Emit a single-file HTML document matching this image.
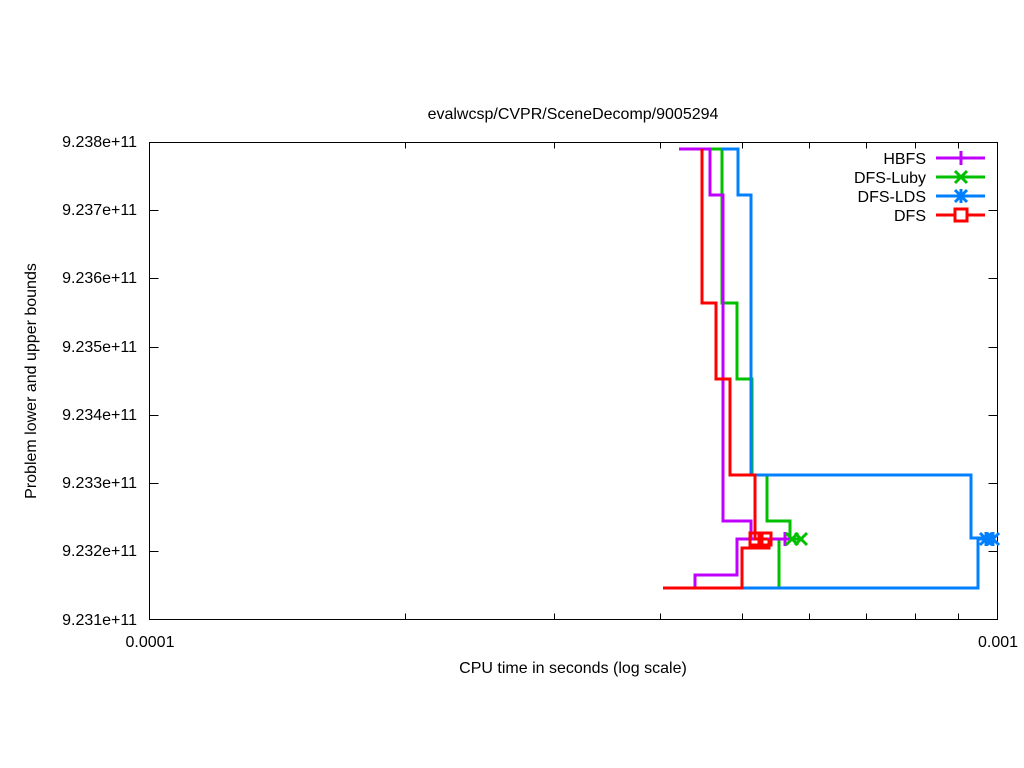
<!DOCTYPE html>
<html><head><meta charset="utf-8"><style>
html,body{margin:0;padding:0;background:#fff}
svg{display:block}
text{font-family:"Liberation Sans",sans-serif;font-size:16px;fill:#000}
</style></head><body>
<svg width="1024" height="768" viewBox="0 0 1024 768">
<rect width="1024" height="768" fill="#fff"/>
<g stroke="#000" stroke-width="1" fill="none">
<rect x="149.5" y="142.5" width="848" height="477"/>
<path d="M149.5 210.5h9M149.5 278.5h9M149.5 347.5h9M149.5 415.5h9M149.5 483.5h9M149.5 551.5h9
M997.5 210.5h-9M997.5 278.5h-9M997.5 347.5h-9M997.5 415.5h-9M997.5 483.5h-9M997.5 551.5h-9"/>
<path d="M405.5 619.5v-6M554.5 619.5v-6M660.5 619.5v-6M742.5 619.5v-6M809.5 619.5v-6M866.5 619.5v-6M915.5 619.5v-6M958.5 619.5v-6
M405.5 142.5v6M554.5 142.5v6M660.5 142.5v6M742.5 142.5v6M809.5 142.5v6M866.5 142.5v6M915.5 142.5v6M958.5 142.5v6"/>
</g>
<g text-anchor="end">
<text x="137" y="147">9.238e+11</text>
<text x="137" y="215">9.237e+11</text>
<text x="137" y="283">9.236e+11</text>
<text x="137" y="352">9.235e+11</text>
<text x="137" y="420">9.234e+11</text>
<text x="137" y="488">9.233e+11</text>
<text x="137" y="556">9.232e+11</text>
<text x="137" y="625">9.231e+11</text>
</g>
<text x="150" y="647" text-anchor="middle">0.0001</text>
<text x="998" y="647" text-anchor="middle">0.001</text>
<text x="573" y="673" text-anchor="middle">CPU time in seconds (log scale)</text>
<text x="573" y="119" text-anchor="middle">evalwcsp/CVPR/SceneDecomp/9005294</text>
<text transform="translate(36 381) rotate(-90)" text-anchor="middle">Problem lower and upper bounds</text>

<g fill="none" stroke-width="3">
<path stroke="#00c000" d="M706 149H722V303H737V379H752V475H767V521H790V539H801M779 588V539"/>
<path stroke="#0080ff" d="M722 149H738V195H751V475H971V538H990M742 588H978V538"/>
<path stroke="#c000ff" d="M679 149H710V195H723V521H751V539H786M663 588H695V575H737V539H760"/>
<path stroke="#ff0000" d="M702 149V303H716V379H730V475H755V539H767M663 588H742V548H769V539"/>
</g>
<g fill="none" stroke-width="3">
<path stroke="#c000ff" d="M785 532v14M778 539h14"/>
<path stroke="#00c000" d="M786 533l12 12M798 533l-12 12M795 533l12 12M807 533l-12 12"/>
<path stroke="#0080ff" d="M980 533l12 12M992 533l-12 12M986 532v14M979 539h14M987 533l12 12M999 533l-12 12M993 532v14"/>
<rect stroke="#ff0000" x="750" y="533" width="12" height="12"/>
<rect stroke="#ff0000" x="759" y="533" width="12" height="12"/>
</g>
<g text-anchor="end">
<text x="926" y="164">HBFS</text>
<text x="926" y="183">DFS-Luby</text>
<text x="926" y="202">DFS-LDS</text>
<text x="926" y="221">DFS</text>
</g>
<g fill="none" stroke-width="3">
<path stroke="#c000ff" d="M936 158h49M961 151v14"/>
<path stroke="#00c000" d="M936 177h49M955 171l12 12M967 171l-12 12"/>
<path stroke="#0080ff" d="M936 196h49M955 190l12 12M967 190l-12 12M961 189v14"/>
<path stroke="#ff0000" d="M936 215h49"/>
<rect stroke="#ff0000" fill="#fff" x="955" y="209" width="12" height="12"/>
</g>
</svg>
</body></html>
